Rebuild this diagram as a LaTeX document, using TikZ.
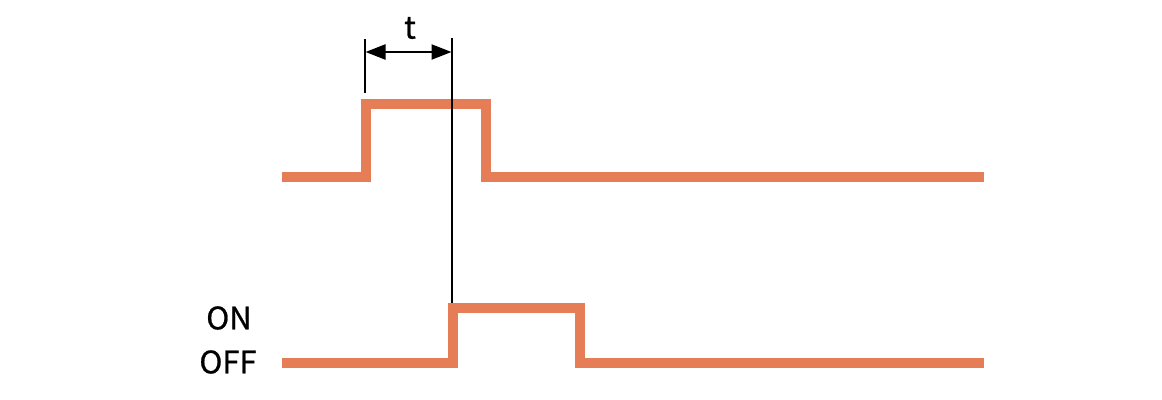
\documentclass[tikz,border=0pt]{standalone}
\usepackage{fontspec}
\setmainfont{Noto Sans CJK JP}
\newfontfamily\lblfont{Noto Sans CJK JP}[UprightFeatures={FakeBold=0.8}]
\usetikzlibrary{arrows.meta}
\definecolor{pulse}{RGB}{229,126,87}

\tikzset{
  signal/.style ={draw=pulse, line width=5pt},
  marker/.style ={draw=black, line width=0.7pt},
  dimarrow/.style={draw=black, line width=1.1pt, {Triangle[length=10pt,width=7.5pt]}-{Triangle[length=10pt,width=7.5pt]}},
  level/.style  ={font=\fontsize{15.5}{18}\selectfont\lblfont, inner sep=0pt},
}

\begin{document}
\begin{tikzpicture}[x=0.5pt, y=-0.5pt]
  \useasboundingbox (0,0) rectangle (1162,400);
  % input pulse
  \draw[signal] (282,177.5) -- (366,177.5) -- (366,104.5) -- (485.5,104.5) -- (485.5,177.5) -- (984,177.5);
  % output pulse
  \draw[signal] (282,363) -- (453,363) -- (453,308) -- (580,308) -- (580,363) -- (984,363);
  % delay markers
  \coordinate (tl1) at (365,39);
  \coordinate (tl2) at (365,93);
  \coordinate (tr1) at (452,38);
  \coordinate (tr2) at (452,303);
  \coordinate (al) at (365.5,52);
  \coordinate (ar) at (451.5,52);
  \draw[marker] (tl1) -- (tl2);
  \draw[marker] (tr1) -- (tr2);
  \draw[dimarrow] (al) -- (ar);
  \node[level] (t) at (410,28) {t};
  \node[level] (on) at (229,318) {ON};
  \node[level] (off) at (228,362) {OFF};
\end{tikzpicture}
\end{document}
